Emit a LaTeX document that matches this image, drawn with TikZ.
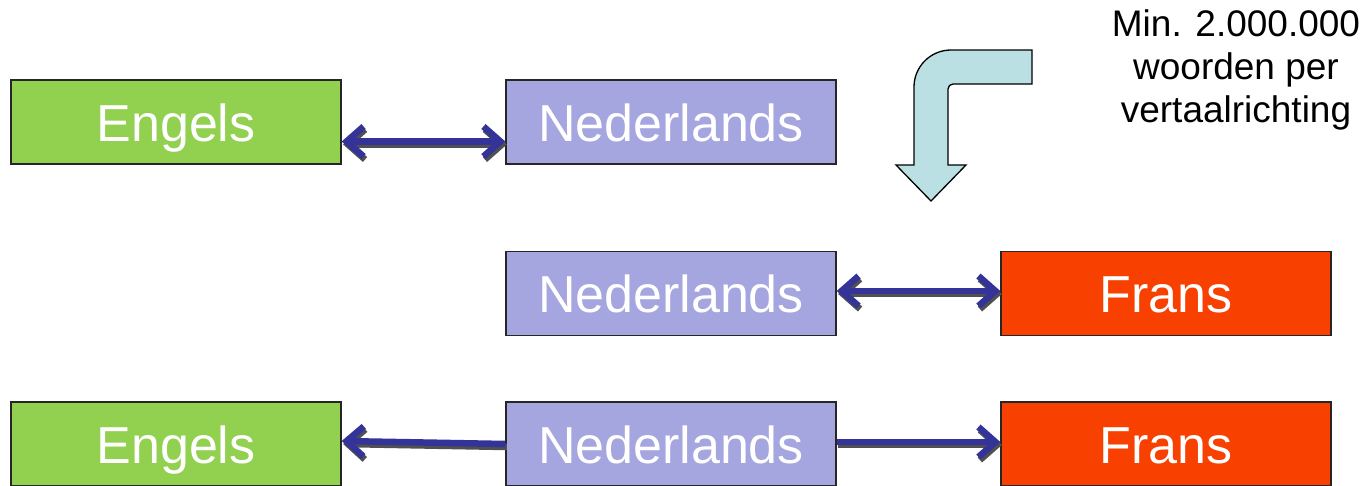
\documentclass[tikz,border=0pt]{standalone}
\usepackage{fontspec}
\setmainfont{Liberation Sans}
\usetikzlibrary{arrows.meta}
\definecolor{engc}{HTML}{92D050}
\definecolor{nedc}{HTML}{A5A5E0}
\definecolor{frac}{HTML}{F84000}
\definecolor{arrc}{HTML}{333399}
\definecolor{shdc}{HTML}{505050}
\definecolor{bendc}{HTML}{BBE0E3}
\tikzset{
  langbox/.style={draw=black!85, line width=1.3pt, minimum width=330pt, minimum height=84pt,
    inner sep=0pt, text height=38pt, text depth=0pt, text=white, font=\fontsize{52}{60}\selectfont},
  conn/.style={line width=6.5pt, draw=arrc},
  connshadow/.style={line width=6.5pt, draw=shdc, transform canvas={shift={(1.5pt,-3pt)}}},
  tipb/.style={-{Straight Barb[length=17pt,width=30pt]}},
  tipbb/.style={{Straight Barb[length=17pt,width=30pt]}-{Straight Barb[length=17pt,width=30pt]}},
  tipa/.style={{Straight Barb[length=17pt,width=30pt]}-},
}
\begin{document}
\begin{tikzpicture}[x=1pt,y=-1pt]
\useasboundingbox[fill=white] (0,0) rectangle (1363,485);
% boxes
\node[langbox, fill=engc] (eng1) at (176,122) {Engels};
\node[langbox, fill=nedc] (ned1) at (671,122) {Nederlands};
\node[langbox, fill=nedc] (ned2) at (671,293.5) {Nederlands};
\node[langbox, fill=frac] (fra2) at (1166,293.5) {Frans};
\node[langbox, fill=engc] (eng3) at (176,444) {Engels};
\node[langbox, fill=nedc] (ned3) at (671,444) {Nederlands};
\node[langbox, fill=frac] (fra3) at (1166,444) {Frans};
% connector end points
\coordinate (a1) at ([yshift=-19.5pt]eng1.east);
\coordinate (b1) at ([yshift=-19.5pt]ned1.west);
\coordinate (a2) at ([yshift=2.5pt]ned2.east);
\coordinate (b2) at ([yshift=2.5pt]fra2.west);
\coordinate (a3) at ([yshift=3pt]eng3.east);
\coordinate (b3) at ([yshift=0pt]ned3.west);
\coordinate (c3) at ([yshift=2pt]ned3.east);
\coordinate (d3) at ([yshift=2pt]fra3.west);
% shadows
\draw[connshadow, tipbb] (a1) -- (b1);
\draw[connshadow, tipbb] (a2) -- (b2);
\draw[connshadow, tipa] (a3) -- (b3);
\draw[connshadow, tipb] (c3) -- (d3);
% arrows
\draw[conn, tipbb] (a1) -- (b1);
\draw[conn, tipbb] (a2) -- (b2);
\draw[conn, tipa] (a3) -- (b3);
\draw[conn, tipb] (c3) -- (d3);
% bent arrow
\draw[fill=bendc, draw=black, line width=1.3pt, line join=miter]
  (1032,50) -- (1032,84) -- (953,84) arc[start angle=270,end angle=180,radius=5]
  -- (948,165) -- (966,165) -- (931,201) -- (896,165) -- (914,165)
  -- (914,87) arc[start angle=180,end angle=270,radius=37] -- cycle;
% note
\node[align=center, font=\fontsize{37}{43}\selectfont, inner sep=0pt] (note) at (1236,70)
  {Min. 2.000.000\\woorden per\\vertaalrichting};
\end{tikzpicture}
\end{document}
